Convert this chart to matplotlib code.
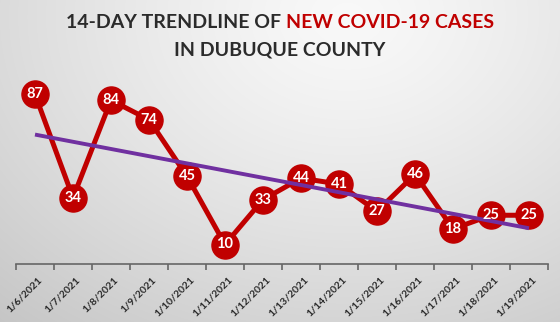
import numpy as np
import matplotlib
matplotlib.use("Agg")
import matplotlib.pyplot as plt
import matplotlib.transforms as mtransforms

dates = ["1/6/2021", "1/7/2021", "1/8/2021", "1/9/2021", "1/10/2021", "1/11/2021",
         "1/12/2021", "1/13/2021", "1/14/2021", "1/15/2021", "1/16/2021", "1/17/2021",
         "1/18/2021", "1/19/2021"]
cases = [87, 34, 84, 74, 45, 10, 33, 44, 41, 27, 46, 18, 25, 25]

RED = "#C00000"
PURPLE = "#7030A0"
DARK = "#2b2b2b"

W, H = 560, 322
fig = plt.figure(figsize=(W / 100, H / 100), dpi=100)

# background radial gradient
bg = fig.add_axes([0, 0, 1, 1], zorder=-10)
yy, xx = np.mgrid[0:H, 0:W]
cx, cy = 0.62 * W, 0.05 * H
d = np.sqrt(((xx - cx) / W) ** 2 + ((yy - cy) / H * 0.75) ** 2)
d = d / d.max()
v = 0.975 - 0.2 * d ** 1.3
img = np.dstack([v, v, v])
bg.imshow(img, extent=[0, 1, 0, 1], aspect="auto", origin="upper")
bg.set_axis_off()

ax = fig.add_axes([16 / W, 1 - 264 / H, 532 / W, 195 / H])
ax.patch.set_alpha(0)
x = np.arange(len(cases))
ax.plot(x, cases, color=RED, lw=3.6, marker="o", ms=19.5, mfc=RED, mec=RED,
        zorder=3, solid_capstyle="round")
for xi, yi in zip(x, cases):
    ax.text(xi, yi, str(yi), ha="center", va="center", color="white",
            fontsize=10.5, fontweight="bold", family="Lato", zorder=5)

# linear trendline
coef = np.polyfit(x + 1, cases, 1)
trend = np.polyval(coef, x + 1)
ax.plot([x[0], x[-1]], [trend[0], trend[-1]], color=PURPLE, lw=2.8, zorder=4,
        solid_capstyle="butt")

ax.set_xlim(-0.5, len(cases) - 0.5)
ax.set_ylim(0, 100)
ax.set_yticks([])
for s in ["top", "right", "left"]:
    ax.spines[s].set_visible(False)
ax.spines["bottom"].set_color("#666666")
ax.spines["bottom"].set_linewidth(1.2)
ax.set_xticks(x)
ax.set_xticklabels(dates, rotation=45, ha="right", va="top", rotation_mode="anchor",
                   fontsize=7.5, fontweight="bold", color=DARK, family="Lato")
ax.tick_params(axis="x", which="major", length=0, pad=8)
off = mtransforms.ScaledTranslation(3 / 100, 0, fig.dpi_scale_trans)
for lab in ax.get_xticklabels():
    lab.set_transform(lab.get_transform() + off)
ax.set_xticks(np.arange(-0.5, len(cases)), minor=True)
ax.tick_params(axis="x", which="minor", length=4, width=1.2, color="#666666", direction="out")

t1 = "14-DAY TRENDLINE OF "
t2 = "NEW COVID-19 CASES"
fs = 14
kw = dict(fontsize=fs, fontweight="bold", family="Lato", va="center")
renderer = fig.canvas.get_renderer()
a = fig.text(0, 0, t1, **kw)
b = fig.text(0, 0, t2, **kw)
wa = a.get_window_extent(renderer).width
wb = b.get_window_extent(renderer).width
a.remove(); b.remove()
x0 = (W - wa - wb) / 2
fig.text(x0 / W, 1 - 22 / H, t1, color=DARK, **kw)
fig.text((x0 + wa) / W, 1 - 22 / H, t2, color=RED, **kw)
fig.text(0.5, 1 - 50 / H, "IN DUBUQUE COUNTY", color=DARK, ha="center", **kw)

fig.savefig("out.png", dpi=100)
